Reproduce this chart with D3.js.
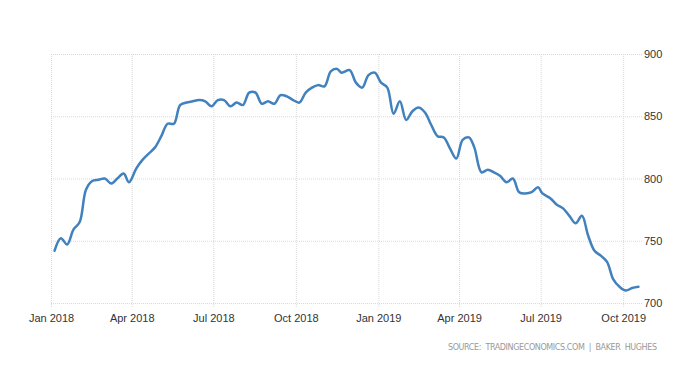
<!DOCTYPE html>
<html>
<head>
<meta charset="utf-8">
<script src="https://cdn.jsdelivr.net/npm/d3@7"></script>
<style>
html,body{margin:0;padding:0;background:#fff;}
svg{display:block;}
</style>
</head>
<body>
<svg id="chart" width="700" height="375"></svg>
<script>
const dates = [
"2018-01-05","2018-01-12","2018-01-19","2018-01-26","2018-02-02","2018-02-09","2018-02-16","2018-02-23",
"2018-03-02","2018-03-09","2018-03-16","2018-03-23","2018-03-29","2018-04-06","2018-04-13","2018-04-20",
"2018-04-27","2018-05-04","2018-05-11","2018-05-18","2018-05-25","2018-06-01","2018-06-08","2018-06-15",
"2018-06-22","2018-06-29","2018-07-06","2018-07-13","2018-07-20","2018-07-27","2018-08-03","2018-08-10",
"2018-08-17","2018-08-24","2018-08-31","2018-09-07","2018-09-14","2018-09-21","2018-09-28","2018-10-05",
"2018-10-12","2018-10-19","2018-10-26","2018-11-02","2018-11-09","2018-11-16","2018-11-21","2018-11-30",
"2018-12-07","2018-12-14","2018-12-21","2018-12-28",
"2019-01-04","2019-01-11","2019-01-18","2019-01-25","2019-02-01","2019-02-08","2019-02-15","2019-02-22",
"2019-03-01","2019-03-08","2019-03-15","2019-03-22","2019-03-29","2019-04-05","2019-04-12","2019-04-18",
"2019-04-26","2019-05-03","2019-05-10","2019-05-17","2019-05-24","2019-05-31","2019-06-07","2019-06-14",
"2019-06-21","2019-06-28","2019-07-03","2019-07-12","2019-07-19","2019-07-26","2019-08-02","2019-08-09",
"2019-08-16","2019-08-23","2019-08-30","2019-09-06","2019-09-13","2019-09-20","2019-09-27","2019-10-04",
"2019-10-11","2019-10-18"
];
const rigs = [
742,752,747,759,765,791,798,799,
800,796,800,804,797,808,815,820,
825,834,844,844,859,861,862,863,
862,858,863,863,858,861,859,869,
869,860,862,860,867,866,863,861,
869,873,875,874,886,888,885,887,
877,873,883,885,
877,873,852,862,847,854,857,853,
843,834,833,824,816,831,833,825,
805,807,805,802,797,800,789,788,
789,793,788,784,779,776,770,764,
770,754,742,738,733,719,713,710,
712,713
];
const xTickDates = ["2018-01-01","2018-04-01","2018-07-01","2018-10-01","2019-01-01","2019-04-01","2019-07-01","2019-10-01"];
const xTickLabels = ["Jan 2018","Apr 2018","Jul 2018","Oct 2018","Jan 2019","Apr 2019","Jul 2019","Oct 2019"];
const yTicks = [700,750,800,850,900];
const sourceText = "SOURCE:  TRADINGECONOMICS.COM  |  BAKER  HUGHES";

(function(){
const parse = d3.utcParse("%Y-%m-%d");
const data = dates.map((d,i)=>({date:parse(d), value:rigs[i]}));

const svg = d3.select("#chart");
const mLeft = 51, mRight = 642, mTop = 54, mBottom = 303;

const x = d3.scaleUtc().domain([parse("2018-01-01"), parse("2019-10-22")]).range([mLeft, mRight]);
const y = d3.scaleLinear().domain([700,900]).range([mBottom, mTop]);

const font = "'Liberation Sans', Arial, sans-serif";

// horizontal gridlines + right axis labels
const yAxis = d3.axisRight(y).tickValues(yTicks).tickSize(-(mRight-mLeft)).tickPadding(2).tickFormat(d3.format("d"));
const gy = svg.append("g").attr("transform",`translate(${mRight},0)`).call(yAxis);
gy.select(".domain").remove();
gy.selectAll(".tick line").attr("stroke","#d9d9d9").attr("stroke-dasharray","1,1");
gy.selectAll(".tick text").attr("font-family",font).attr("font-size",11).attr("fill","#333").attr("x",2);

// vertical gridlines + bottom axis labels
const tickDates = xTickDates.map(parse);
const xAxis = d3.axisBottom(x).tickValues(tickDates).tickSize(0).tickPadding(0)
  .tickFormat((d,i)=>xTickLabels[i]);
const gx = svg.append("g").attr("transform",`translate(0,${mBottom})`).call(xAxis);
gx.select(".domain").remove();
gx.selectAll(".tick line").remove();
gx.selectAll(".tick").append("line")
  .attr("y1",-(mBottom-mTop)).attr("y2",5)
  .attr("stroke","#d9d9d9").attr("stroke-dasharray","1,1");
gx.selectAll(".tick text").attr("font-family",font).attr("font-size",11).attr("fill","#333")
  .attr("y",11).attr("dy","0.71em");

// line
const line = d3.line().x(d=>x(d.date)).y(d=>y(d.value)).curve(d3.curveCatmullRom.alpha(0.5));
svg.append("path").datum(data)
  .attr("d",line).attr("fill","none")
  .attr("stroke","#4181bd").attr("stroke-width",2.5)
  .attr("stroke-linejoin","round").attr("stroke-linecap","round");

// source
svg.append("text").attr("x",657).attr("y",350).attr("text-anchor","end")
  .attr("font-family","'DejaVu Sans', Verdana, sans-serif").attr("font-size",8).attr("fill","#999")
  .attr("textLength",209).attr("lengthAdjust","spacing")
  .style("white-space","pre")
  .text(sourceText);
})();
</script>
</body>
</html>
